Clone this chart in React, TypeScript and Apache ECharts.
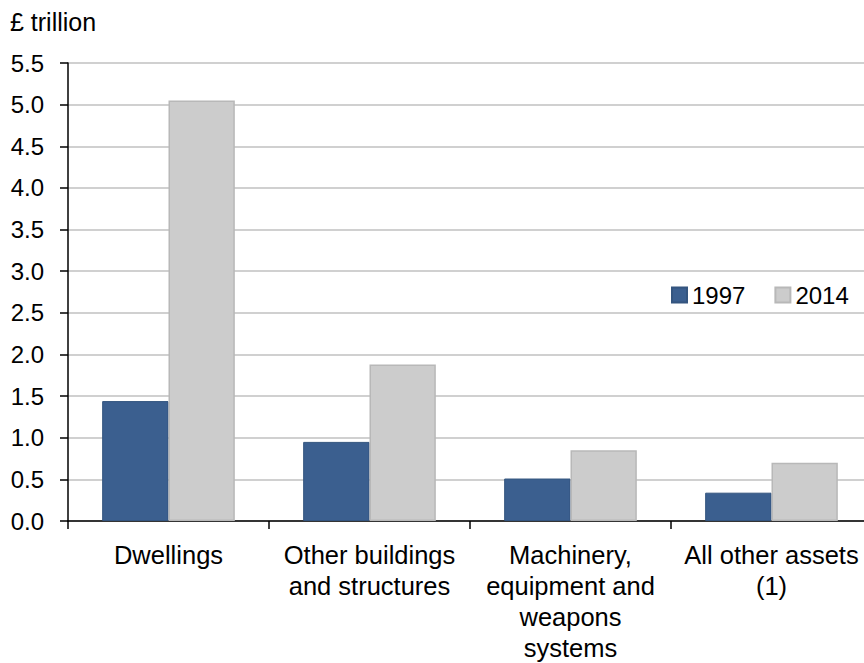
import React, { useEffect, useRef } from "react";
import * as echarts from "echarts";

const categories = [
  "Dwellings",
  "Other buildings\nand structures",
  "Machinery,\nequipment and\nweapons\nsystems",
  "All other assets\n(1)",
];
const values1997 = [1.44, 0.95, 0.51, 0.34];
const values2014 = [5.05, 1.88, 0.85, 0.7];
const seriesNames = ["1997", "2014"];
const yTicks = { min: 0, max: 5.5, interval: 0.5 };

export default function App() {
  const ref = useRef<HTMLDivElement>(null);
  useEffect(() => {
    if (!ref.current) return;
    const chart = echarts.init(ref.current, null, { renderer: "svg" });
    const font = "'Liberation Sans', Arial, sans-serif";
    chart.setOption({
      animation: false,
      textStyle: { fontFamily: font },
      graphic: [
        {
          type: "text",
          left: 10,
          top: 9,
          style: { text: "£ trillion", fontSize: 25, fill: "#000", fontFamily: font },
        },
      ],
      legend: {
        data: seriesNames,
        left: 666,
        top: 278,
        itemWidth: 15,
        itemHeight: 15,
        itemGap: 29,
        icon: "rect",
        textStyle: { fontSize: 24, color: "#000", fontFamily: font },
      },
      grid: { left: 68, top: 63, width: 804, height: 458, containLabel: false },
      xAxis: {
        type: "category",
        data: categories,
        axisLine: { lineStyle: { color: "#000", width: 1.5 } },
        axisTick: { show: true, length: 8, lineStyle: { color: "#000", width: 1.5 } },
        axisLabel: {
          fontSize: 25.5,
          color: "#000",
          margin: 18,
          lineHeight: 31,
          fontFamily: font,
          interval: 0,
        },
      },
      yAxis: {
        type: "value",
        min: yTicks.min,
        max: yTicks.max,
        interval: yTicks.interval,
        axisLine: { show: true, lineStyle: { color: "#000", width: 1.5 } },
        axisTick: { show: true, length: 8, lineStyle: { color: "#000", width: 1.5 } },
        splitLine: { lineStyle: { color: "#d0d0d0", width: 2 } },
        axisLabel: {
          fontSize: 24,
          color: "#000",
          margin: 24,
          fontFamily: font,
          formatter: (v: number) => v.toFixed(1),
        },
      },
      series: [
        {
          name: seriesNames[0],
          type: "bar",
          data: values1997,
          barGap: "0%",
          barCategoryGap: "34%",
          itemStyle: { color: "#3b5f8f", borderColor: "#34557f", borderWidth: 1 },
        },
        {
          name: seriesNames[1],
          type: "bar",
          data: values2014,
          itemStyle: { color: "#cccccc", borderColor: "#b8b8b8", borderWidth: 1.5 },
        },
      ],
    });
    return () => chart.dispose();
  }, []);
  return (
    <div style={{ width: 864, height: 663, position: "absolute", left: 0, top: 0, overflow: "hidden" }}>
      <div ref={ref} style={{ width: 880, height: 663 }} />
    </div>
  );
}
